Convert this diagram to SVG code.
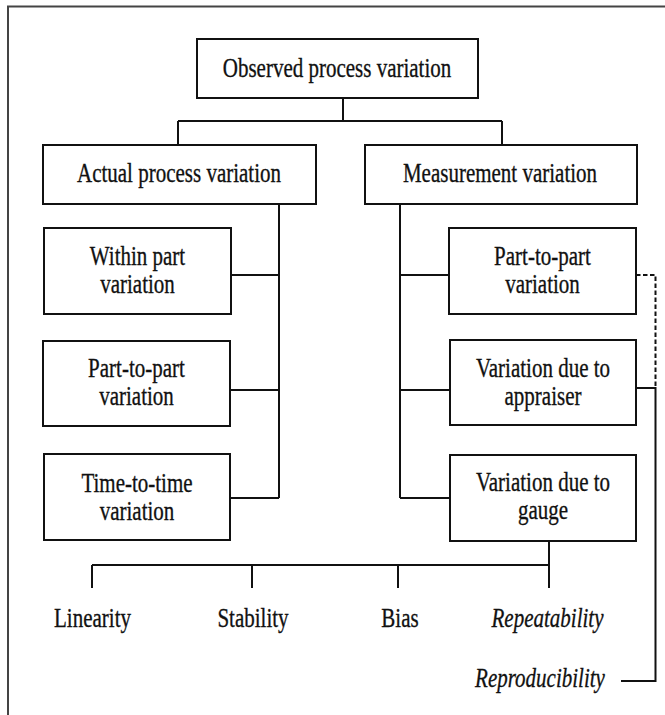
<svg xmlns="http://www.w3.org/2000/svg" width="665" height="715" viewBox="0 0 665 715">
<style>
.box{fill:#fff;stroke:#111;stroke-width:2}
.ln{fill:none;stroke:#111;stroke-width:2}
.dash{fill:none;stroke:#111;stroke-width:2;stroke-dasharray:4.5 2.5}
.t{font-family:"Liberation Serif","Times New Roman",serif;font-size:21px;fill:#111;stroke:#111;stroke-width:0.25;text-anchor:middle}
.i{font-style:italic}
</style>
<rect x="0" y="0" width="665" height="715" fill="#fff"/>
<g id="frame"><path d="M8,715 V6.5 H665" fill="none" stroke="#444" stroke-width="2"/></g>
<g id="connectors">
<path class="ln" d="M343,98 V121 M178,121 H502 M178,121 V145 M502,121 V145"/>
<path class="ln" d="M279,204 V498 M231,275 H279 M230,390 H279 M230,498 H279"/>
<path class="ln" d="M400,204 V498 M400,275 H449 M400,390 H450 M400,498 H450"/>
<path class="ln" d="M549,541 V588 M92,565 H549 M92,565 V588 M252,565 V588 M398,565 V588"/>
<path class="dash" d="M636,275 H655.5 V388"/>
<path class="ln" d="M636,388 H655.5 V681 H621"/>
</g>
<g id="n-observed"><rect class="box" x="197" y="39" width="281" height="59"/><text class="t" transform="translate(337,77) scale(1,1.3)">Observed process variation</text></g>
<g id="n-actual"><rect class="box" x="43" y="145" width="273" height="59"/><text class="t" transform="translate(179,182) scale(1,1.3)">Actual process variation</text></g>
<g id="n-measurement"><rect class="box" x="365" y="145" width="272" height="59"/><text class="t" transform="translate(500,182) scale(1,1.3)">Measurement variation</text></g>
<g id="n-within"><rect class="box" x="44" y="228" width="187" height="86"/><text class="t" transform="translate(137.5,265) scale(1,1.3)">Within part</text><text class="t" transform="translate(137.5,293) scale(1,1.3)">variation</text></g>
<g id="n-parttopart-l"><rect class="box" x="43" y="341" width="187" height="85"/><text class="t" transform="translate(136.5,377) scale(1,1.3)">Part-to-part</text><text class="t" transform="translate(136.5,405) scale(1,1.3)">variation</text></g>
<g id="n-timetotime"><rect class="box" x="44" y="454" width="186" height="86"/><text class="t" transform="translate(137,492) scale(1,1.3)">Time-to-time</text><text class="t" transform="translate(137,520) scale(1,1.3)">variation</text></g>
<g id="n-parttopart-r"><rect class="box" x="449" y="228" width="187" height="86"/><text class="t" transform="translate(542.5,265) scale(1,1.3)">Part-to-part</text><text class="t" transform="translate(542.5,293) scale(1,1.3)">variation</text></g>
<g id="n-appraiser"><rect class="box" x="450" y="340" width="186" height="85"/><text class="t" transform="translate(543,377) scale(1,1.3)">Variation due to</text><text class="t" transform="translate(543,405) scale(1,1.3)">appraiser</text></g>
<g id="n-gauge"><rect class="box" x="450" y="455" width="186" height="86"/><text class="t" transform="translate(543,491) scale(1,1.3)">Variation due to</text><text class="t" transform="translate(543,519) scale(1,1.3)">gauge</text></g>
<g id="n-linearity"><text class="t" transform="translate(92.5,627) scale(1,1.3)">Linearity</text></g>
<g id="n-stability"><text class="t" transform="translate(253,627) scale(1,1.3)">Stability</text></g>
<g id="n-bias"><text class="t" transform="translate(400,627) scale(1,1.3)">Bias</text></g>
<g id="n-repeatability"><text class="t i" transform="translate(547.5,627) scale(1,1.3)">Repeatability</text></g>
<g id="n-reproducibility"><text class="t i" transform="translate(540,687) scale(1,1.3)">Reproducibility</text></g>
</svg>
